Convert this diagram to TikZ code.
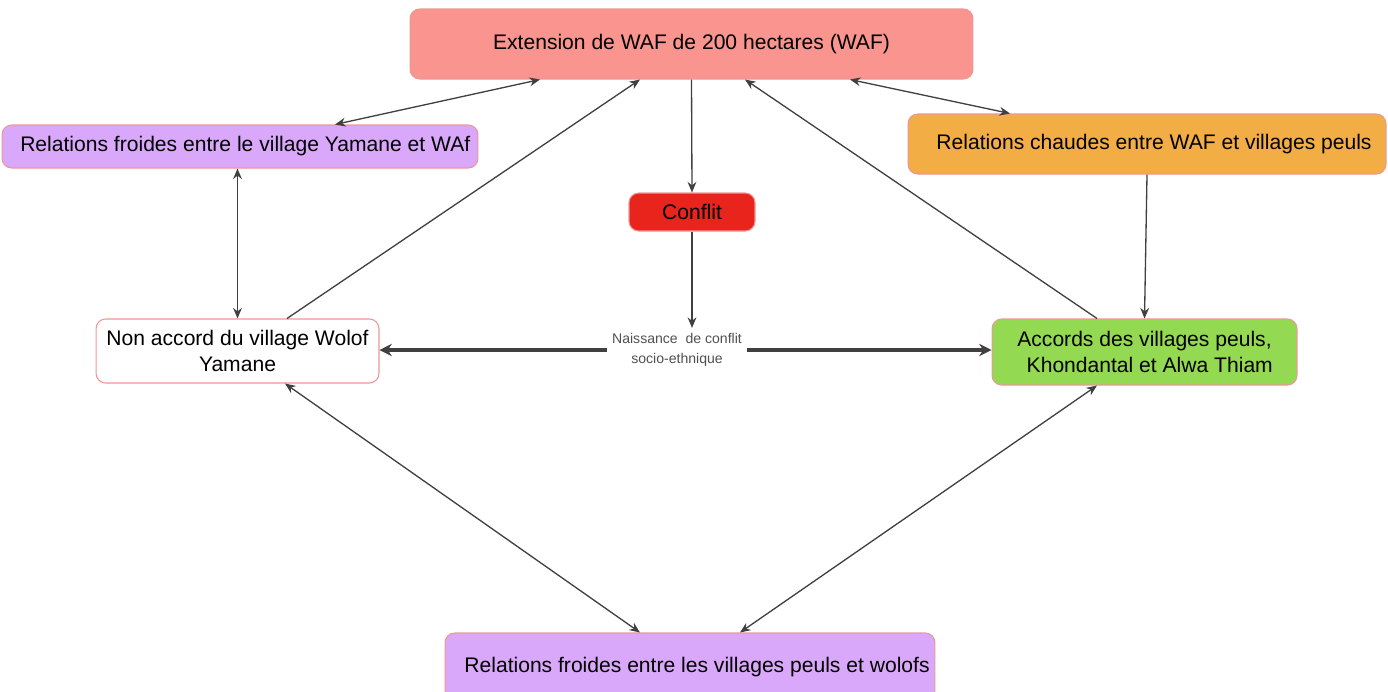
\documentclass[tikz,border=0pt]{standalone}
\usepackage{fontspec}
\setmainfont{Liberation Sans}
\usetikzlibrary{arrows.meta,calc}

\definecolor{wafred}{RGB}{249,148,142}
\definecolor{coldpurple}{RGB}{218,168,250}
\definecolor{warmorange}{RGB}{242,174,69}
\definecolor{conflictred}{RGB}{232,36,28}
\definecolor{agreegreen}{RGB}{148,217,82}
\definecolor{boxline}{RGB}{238,150,150}
\definecolor{linkgray}{RGB}{64,64,64}
\definecolor{labelgray}{RGB}{80,80,80}

\tikzset{
  box/.style={draw=boxline, line width=0.6pt, rounded corners=5.5pt, inner sep=0pt,
    align=center, font=\fontsize{12}{15}\selectfont},
  link/.style={draw=linkgray, line width=0.75pt, -{Stealth[length=6pt,width=5pt]}},
  twoway/.style={draw=linkgray, line width=0.75pt,
    arrows={Stealth[length=6pt,width=5pt]-Stealth[length=6pt,width=5pt]}},
  boldlink/.style={draw=linkgray, line width=2pt, -{Stealth[length=7pt,width=7pt]}},
}

\begin{document}
\begin{tikzpicture}[x=0.02cm, y=-0.02cm]

    \useasboundingbox (0,0) rectangle (1388,691);

    % Boxes
    \node[box, fill=wafred, minimum width=11.26cm, minimum height=1.4cm] (waf) at (691.5,44)
        {Extension de WAF de 200 hectares (WAF)};
    \node[box, fill=coldpurple, minimum width=9.52cm, minimum height=0.86cm] (froidY) at (240,146.5)
        {\hspace{6pt}Relations froides entre le village Yamane et WAf};
    \node[box, fill=warmorange, minimum width=9.56cm, minimum height=1.2cm] (chaud) at (1147,144)
        {\hspace{8pt}Relations chaudes entre WAF et villages peuls};
    \node[box, fill=conflictred, minimum width=2.52cm, minimum height=0.76cm] (conflit) at (692,212)
        {Conflit};
    \node[box, fill=white, minimum width=5.66cm, minimum height=1.28cm] (nonaccord) at (237.5,351)
        {Non accord du village Wolof\\Yamane};
    \node[box, fill=agreegreen, minimum width=6.1cm, minimum height=1.32cm] (accords) at (1144.5,352)
        {Accords des villages peuls,\\\hspace{6pt}Khondantal et Alwa Thiam};
    \node[box, fill=coldpurple, minimum width=9.8cm, minimum height=1.36cm] (froidPW) at (690,667)
        {\hspace{8pt}Relations froides entre les villages peuls et wolofs};

    % Label
    \node[align=center, text=labelgray, inner sep=3pt, font=\fontsize{8}{11.3}\selectfont]
        (naissance) at (677,350) {Naissance\ \ de conflit\\socio-ethnique};

    % Links
    \draw[twoway] ($(waf.south)+(-151.5,0)$) -- ($(froidY.north)+(95,0)$);
    \draw[link] ($(nonaccord.north)+(49.5,0)$) -- ($(waf.south)+(-51.5,0)$);
    \draw[link] (waf.south) -- (conflit.north);
    \draw[link] ($(accords.north)+(-47.5,0)$) -- ($(waf.south)+(53.5,0)$);
    \draw[twoway] ($(waf.south)+(158.5,0)$) -- ($(chaud.north)+(-137,0)$);
    \draw[twoway] (nonaccord.north |- froidY.south) -- (nonaccord.north);
    \draw[link] (chaud.south) -- (accords.north);
    \draw[link] (conflit.south) -- (conflit.south |- naissance.north);
    \draw[boldlink] (naissance.west) -- (nonaccord.east |- naissance.west);
    \draw[boldlink] (naissance.east) -- (accords.west |- naissance.east);
    \draw[twoway] ($(nonaccord.south)+(47.5,0)$) -- ($(froidPW.north)+(-50,0)$);
    \draw[twoway] ($(accords.south)+(-47.5,0)$) -- ($(froidPW.north)+(50,0)$);

\end{tikzpicture}
\end{document}
